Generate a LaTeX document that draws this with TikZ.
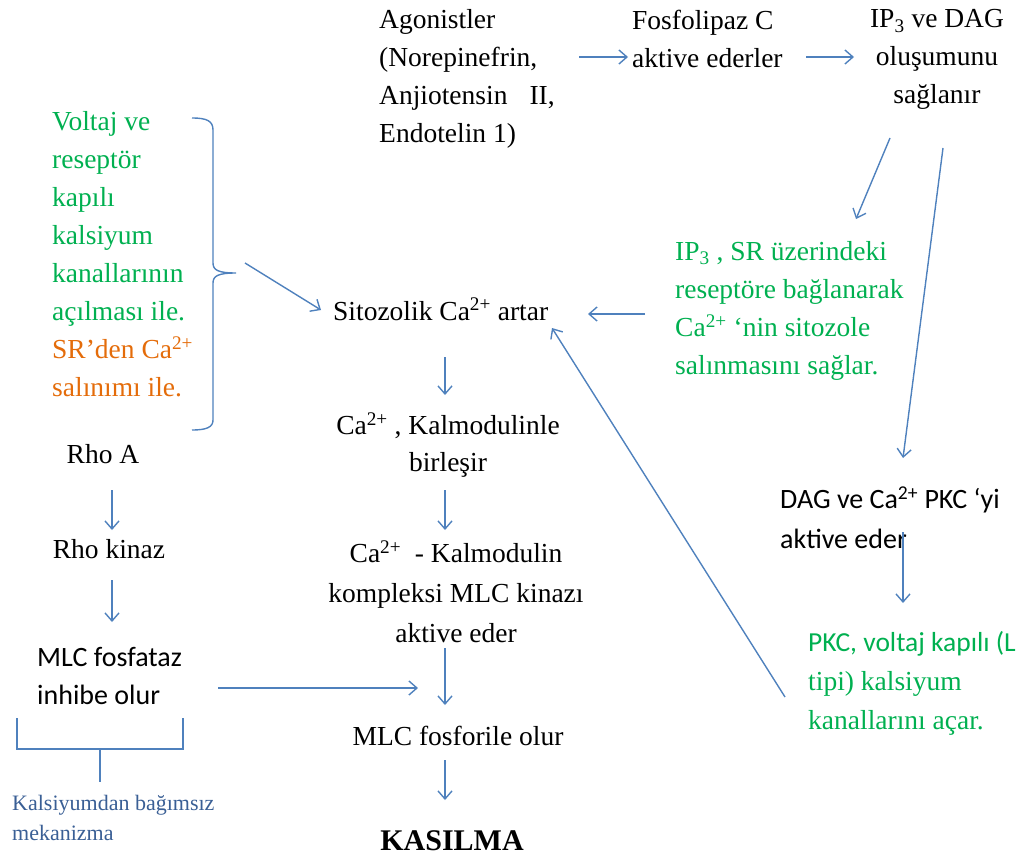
\documentclass[tikz,border=0pt]{standalone}
\usepackage{fontspec}
\setmainfont{Liberation Serif}
\newfontfamily\calibri{Carlito}
\usetikzlibrary{arrows.meta,calc}
\definecolor{arrowblue}{HTML}{4F81BD}
\definecolor{txtgreen}{HTML}{00B050}
\definecolor{txtorange}{HTML}{E46C0A}
\definecolor{txtblue}{HTML}{3A5F95}

\begin{document}
\begin{tikzpicture}[x=1pt,y=-1pt,
  txt/.style={inner sep=0pt, align=left, font=\fontsize{27.5}{38}\selectfont},
  sans/.style={inner sep=0pt, align=left, font=\calibri\fontsize{28}{38}\selectfont},
  flow/.style={-{Straight Barb[length=8pt,width=14pt]}, arrowblue, line width=1.4pt},
  brace/.style={arrowblue, line width=1.4pt}]
\useasboundingbox (0,0) rectangle (1030,859);

% top row
\node[txt, anchor=north west] (agon) at (379,9.5) {Agonistler\\(Norepinefrin,\\Anjiotensin\hspace{22pt}II,\\Endotelin 1)};
\node[txt, anchor=north west] (plc) at (632,9.5) {Fosfolipaz C\\aktive ederler};
\node[txt, anchor=north, align=center] (ipdag) at (937,9.5) {IP\textsubscript{3} ve DAG\\oluşumunu\\sağlanır};

% left side, calcium ways
\node[txt, anchor=north west, text=txtgreen] (volt) at (52,111) {Voltaj ve\\reseptör\\kapılı\\kalsiyum\\kanallarının\\açılması ile.\\\textcolor{txtorange}{SR’den Ca\textsuperscript{2+}}\\\textcolor{txtorange}{salınımı ile.}};
\coordinate (brtip) at (236,273);
\draw[brace] (192,118) .. controls (207,118) and (213,121) .. (213,130) -- (213,263)
  .. controls (213,270) and (218,273) .. (brtip)
  .. controls (218,273) and (213,276) .. (213,283) -- (213,420)
  .. controls (213,427) and (207,430) .. (192,430);

% middle column
\coordinate (col) at (445,0);
\node[txt, anchor=base west] (sito) at (333,320) {Sitozolik Ca\textsuperscript{2+} artar};
\node[txt, anchor=north, align=center, font=\fontsize{27.5}{37}\selectfont] (kalm) at (448,413) {Ca\textsuperscript{2+} , Kalmodulinle\\birleşir};
\node[txt, anchor=north, align=center, font=\fontsize{27.5}{40}\selectfont] (kompl) at (456,541) {Ca\textsuperscript{2+}\ \ - Kalmodulin\\kompleksi MLC kinazı\\aktive eder};
\node[txt, anchor=base] (fosf) at (458,745) {MLC fosforile olur};
\node[txt, anchor=base, font=\bfseries\fontsize{30}{36}\selectfont] (kas) at (452,850) {KASILMA};

% right side
\node[txt, anchor=north west, text=txtgreen] (ipsr) at (675,241) {IP\textsubscript{3} , SR üzerindeki\\reseptöre bağlanarak\\Ca\textsuperscript{2+} ‘nin sitozole\\salınmasını sağlar.};
\node[sans, anchor=north west, font=\calibri\fontsize{28}{40}\selectfont] (dagca) at (780,487) {DAG ve Ca\textsuperscript{2+} PKC ‘yi\\aktive eder};
\node[txt, anchor=north west, text=txtgreen, font=\fontsize{27.5}{39}\selectfont] (pkc) at (808,631) {{\calibri PKC, voltaj kapılı (L}\\tipi) kalsiyum\\kanallarını açar.};

% left column, Rho
\coordinate (lcol) at (112,0);
\node[txt, anchor=base] (rhoa) at (103,463) {Rho A};
\node[txt, anchor=base] (rhok) at (109,558) {Rho kinaz};
\node[sans, anchor=north west] (mlcf) at (37,647) {MLC fosfataz\\inhibe olur};
\node[txt, anchor=north west, text=txtblue, font=\fontsize{22}{30}\selectfont] (kalsb) at (12,795) {Kalsiyumdan bağımsız\\mekanizma};
\draw[brace] (17,718) -- (17,749) -- (183,749) -- (183,718);
\draw[brace] (100,749) -- (100,782);

% arrows
\draw[flow] ($(agon.north west)+(200,47.5)$) -- ($(plc.north west)+(-4,47.5)$);
\draw[flow] ($(plc.north west)+(174,47.5)$) -- ($(ipdag.north)+(-83,47.5)$);
\draw[flow] ($(ipdag.north)+(-47,128.5)$) -- ($(ipsr.north west)+(181,-22)$);
\draw[flow] ($(ipdag.north)+(6,138.5)$) -- ($(dagca.north west)+(123,-29)$);
\draw[flow] ($(ipsr.north west)+(-30,73)$) -- ($(sito.base west)+(255,-6)$);
\draw[flow] ($(brtip)+(9,-10)$) -- ($(sito.base west)+(-12,-10)$);
\draw[flow] ($(sito.base -| col)+(0,37)$) -- ($(kalm.north -| col)+(0,-18)$);
\draw[flow] ($(kalm.north -| col)+(0,77)$) -- ($(kompl.north -| col)+(0,-11)$);
\draw[flow] ($(kompl.north -| col)+(0,107)$) -- ($(fosf.base -| col)+(0,-40)$);
\draw[flow] ($(fosf.base -| col)+(0,15)$) -- ($(kas.base -| col)+(0,-50)$);
\draw[flow] ($(rhoa.base -| lcol)+(0,27)$) -- ($(rhok.base -| lcol)+(0,-28)$);
\draw[flow] ($(rhok.base -| lcol)+(0,22)$) -- ($(mlcf.north west -| lcol)+(0,-25)$);
\draw[flow] ($(mlcf.north west)+(181,41)$) -- ($(fosf.base -| col)+(-27,-57)$);
\draw[flow] ($(dagca.north west)+(123,45)$) -- ($(pkc.north west)+(95,-28)$);
\draw[flow] ($(pkc.north west)+(-23,66)$) -- ($(sito.base west)+(219,8)$);
\end{tikzpicture}
\end{document}
